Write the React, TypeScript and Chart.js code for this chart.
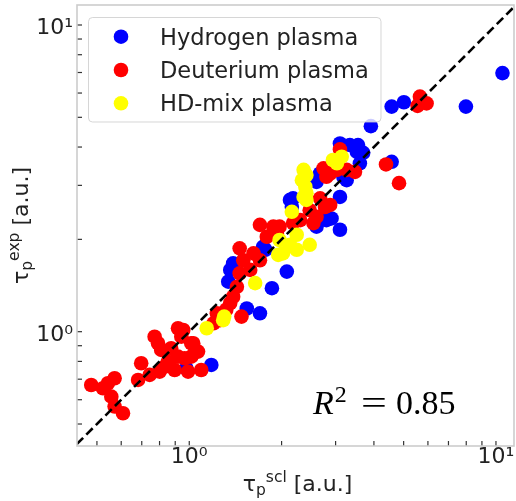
import React, { useEffect, useRef } from 'react';
import { Chart, registerables } from 'chart.js';

Chart.register(...registerables);

// ---- data (tau_p^scl, tau_p^exp) ----
const hydrogenX = [10.5, 7.98, 4.57, 5.01, 3.91, 4.57, 3.10, 3.34, 3.55, 3.69, 3.52, 3.18, 3.26, 3.60, 2.67, 2.60, 2.18, 2.13, 2.16, 3.10, 2.91, 3.10, 2.80, 2.60, 2.67, 1.74, 1.77, 2.08, 1.86, 1.70, 1.36, 1.34, 1.39, 1.54, 0.978, 1.18];
const hydrogenY = [6.97, 5.42, 5.42, 5.60, 4.68, 3.58, 4.11, 4.06, 4.06, 3.83, 3.86, 3.20, 3.12, 3.54, 3.28, 3.08, 2.72, 2.69, 2.55, 2.75, 2.34, 2.15, 2.31, 2.20, 2.31, 1.89, 1.85, 1.57, 1.386, 1.148, 1.59, 1.456, 1.67, 1.19, 0.760, 0.779];

const deuteriumX = [5.65, 5.94, 5.55, 4.38, 4.83, 3.10, 2.74, 2.88, 3.03, 3.26, 3.47, 2.80, 2.67, 2.88, 2.77, 2.47, 2.60, 2.54, 2.30, 2.18, 1.97, 1.88, 1.79, 1.93, 1.70, 1.46, 1.62, 1.50, 1.70, 1.58, 1.46, 1.43, 1.39, 1.36, 1.32, 1.48, 1.26, 1.20, 1.23, 0.956, 1.03, 0.479, 0.523, 0.543, 0.571, 0.557, 0.571, 0.608, 0.697, 0.681, 0.743, 0.801, 0.832, 0.771, 0.791, 0.810, 0.919, 0.942, 0.873, 0.919, 0.852, 0.896, 0.966, 1.015, 1.068, 1.094, 1.015, 0.991];
const deuteriumY = [5.84, 5.55, 5.45, 3.51, 3.05, 3.93, 3.41, 3.28, 3.37, 3.37, 3.32, 3.20, 2.72, 2.59, 2.55, 2.49, 2.37, 2.26, 2.31, 2.26, 2.20, 2.20, 2.04, 2.09, 2.23, 1.87, 1.80, 1.71, 1.71, 1.59, 1.55, 1.40, 1.30, 1.24, 1.18, 1.12, 1.09, 1.065, 1.148, 1.013, 0.917, 0.670, 0.654, 0.679, 0.705, 0.614, 0.570, 0.542, 0.789, 0.696, 0.723, 0.741, 0.769, 0.963, 0.917, 0.872, 1.026, 0.963, 0.883, 0.829, 0.798, 0.750, 0.819, 0.829, 0.861, 0.750, 0.917, 0.741];

const hdMixX = [3.14, 2.94, 3.03, 2.36, 2.41, 2.33, 2.39, 2.41, 2.36, 2.41, 2.16, 2.24, 1.97, 2.47, 2.02, 2.24, 2.13, 1.95, 1.64, 1.29, 1.14, 1.30];
const hdMixY = [3.72, 3.63, 3.54, 3.37, 3.24, 3.12, 2.97, 2.83, 2.75, 2.69, 2.46, 2.07, 1.99, 1.92, 1.80, 1.85, 1.92, 1.78, 1.44, 1.09, 1.026, 1.12];

const refLine = [0.4, 12];
const xRange = [0.4305, 11.45];
const yRange = [0.4239, 11.62];
const tickValues = [0.5, 0.6, 0.7, 0.8, 0.9, 1, 2, 3, 4, 5, 6, 7, 8, 9, 10];
const tickLabels: Record<number, string> = { 1: '10\u2070', 10: '10\u00b9' };
const seriesNames = ['Hydrogen plasma', 'Deuterium plasma', 'HD-mix plasma'];
const seriesColors = ['#0000ff', '#ff0000', '#ffff00'];
const r2Value = '0.85';

const SANS = '"DejaVu Sans"';
const TEXT = '#222222';

function toPoints(xs: number[], ys: number[]) {
  return xs.map((x, i) => ({ x, y: ys[i] }));
}

function titleWidth(ctx: CanvasRenderingContext2D, sup: string) {
  ctx.font = `22px ${SANS}`;
  let w = ctx.measureText('\u03c4').width + ctx.measureText(' [a.u.]').width;
  ctx.font = `15.5px ${SANS}`;
  w += ctx.measureText('p').width + ctx.measureText(sup).width;
  return w;
}

function drawTitle(ctx: CanvasRenderingContext2D, x: number, y: number, sup: string) {
  ctx.font = `22px ${SANS}`;
  ctx.fillText('\u03c4', x, y);
  x += ctx.measureText('\u03c4').width;
  ctx.font = `15.5px ${SANS}`;
  ctx.fillText('p', x, y + 4);
  x += ctx.measureText('p').width;
  ctx.fillText(sup, x, y - 9);
  x += ctx.measureText(sup).width;
  ctx.font = `22px ${SANS}`;
  ctx.fillText(' [a.u.]', x, y);
}

const decor = {
  id: 'decor',
  afterDatasetsDraw(chart: any) {
    const { ctx, chartArea: ca, scales } = chart;
    ctx.save();
    // inward tick marks
    ctx.strokeStyle = '#333333';
    ctx.lineWidth = 1.2;
    for (const v of tickValues) {
      const x = scales.x.getPixelForValue(v);
      ctx.beginPath();
      ctx.moveTo(x, ca.bottom);
      ctx.lineTo(x, ca.bottom - 5);
      ctx.stroke();
      const y = scales.y.getPixelForValue(v);
      ctx.beginPath();
      ctx.moveTo(ca.left, y);
      ctx.lineTo(ca.left + 5, y);
      ctx.stroke();
    }
    // frame
    ctx.strokeStyle = '#cccccc';
    ctx.lineWidth = 1.6;
    ctx.strokeRect(ca.left, ca.top, ca.right - ca.left, ca.bottom - ca.top);

    // legend
    const lx = ca.left + 11.5;
    const ly = ca.top + 12.5;
    const lw = 292.5;
    const lh = 104.5;
    ctx.beginPath();
    ctx.roundRect(lx, ly, lw, lh, 4);
    ctx.fillStyle = 'rgba(255,255,255,0.8)';
    ctx.fill();
    ctx.strokeStyle = 'rgba(204,204,204,0.8)';
    ctx.lineWidth = 1;
    ctx.stroke();
    seriesNames.forEach((name, i) => {
      const cy = ca.top + 31.7 + i * 33.3;
      ctx.beginPath();
      ctx.arc(ca.left + 44, cy, 7.3, 0, Math.PI * 2);
      ctx.fillStyle = seriesColors[i];
      ctx.fill();
      ctx.fillStyle = TEXT;
      ctx.font = `22.5px ${SANS}`;
      ctx.textAlign = 'left';
      ctx.textBaseline = 'alphabetic';
      ctx.fillText(name, ca.left + 83, cy + 8);
    });

    // R^2 annotation
    const bx = ca.right - 201;
    const by = ca.bottom - 32;
    ctx.fillStyle = '#000000';
    ctx.font = `italic 34px "Liberation Serif"`;
    ctx.fillText('R', bx, by);
    let cx = bx + ctx.measureText('R').width + 1;
    ctx.font = `24px "Liberation Serif"`;
    ctx.fillText('2', cx, by - 12);
    cx += ctx.measureText('2').width;
    ctx.font = `34px "Liberation Serif"`;
    ctx.textAlign = 'center';
    ctx.save();
    ctx.translate(ca.right - 140, by);
    ctx.scale(1.35, 1);
    ctx.fillText('=', 0, 0);
    ctx.restore();
    ctx.textAlign = 'left';
    ctx.fillText(r2Value, ca.right - 118, by);

    // axis titles
    ctx.fillStyle = TEXT;
    const wx = titleWidth(ctx, 'scl');
    drawTitle(ctx, 297.5 - wx / 2, 491, 'scl');
    const wy = titleWidth(ctx, 'exp');
    ctx.save();
    ctx.translate(28, (ca.top + ca.bottom) / 2);
    ctx.rotate(-Math.PI / 2);
    drawTitle(ctx, -wy / 2, 0, 'exp');
    ctx.restore();

    ctx.restore();
  },
};

export default function App() {
  const ref = useRef<HTMLCanvasElement | null>(null);
  useEffect(() => {
    if (!ref.current) return;
    const tickFont = { family: 'DejaVu Sans', size: 22, lineHeight: 1 };
    const chart = new Chart(ref.current, {
      type: 'scatter',
      data: {
        datasets: [
          {
            type: 'line',
            label: 'y = x',
            data: toPoints(refLine, refLine),
            borderColor: '#000000',
            borderWidth: 2.6,
            borderDash: [9, 4.5],
            pointRadius: 0,
            fill: false,
            order: 0,
          } as any,
          {
            label: seriesNames[2],
            data: toPoints(hdMixX, hdMixY),
            backgroundColor: seriesColors[2],
            borderWidth: 0,
            pointRadius: 7.3,
            order: 1,
          },
          {
            label: seriesNames[1],
            data: toPoints(deuteriumX, deuteriumY),
            backgroundColor: seriesColors[1],
            borderWidth: 0,
            pointRadius: 7.3,
            order: 2,
          },
          {
            label: seriesNames[0],
            data: toPoints(hydrogenX, hydrogenY),
            backgroundColor: seriesColors[0],
            borderWidth: 0,
            pointRadius: 7.3,
            order: 3,
          },
        ],
      },
      options: {
        responsive: false,
        animation: false,
        events: [],
        layout: { padding: { top: 5, right: 2, left: 0, bottom: 0 }, autoPadding: false },
        plugins: { legend: { display: false }, tooltip: { enabled: false } },
        scales: {
          x: {
            type: 'logarithmic',
            min: xRange[0],
            max: xRange[1],
            afterBuildTicks: (s: any) => {
              s.ticks = tickValues.map((v) => ({ value: v }));
            },
            afterFit: (s: any) => {
              s.height = 55;
              s.paddingLeft = 0;
              s.paddingRight = 0;
              s.paddingTop = 0;
              s.paddingBottom = 0;
            },
            ticks: {
              autoSkip: false,
              maxRotation: 0,
              padding: 0,
              color: TEXT,
              font: tickFont,
              callback: (v: any) => tickLabels[Number(v)] ?? '',
            },
            grid: { display: false, drawTicks: false },
            border: { display: false },
          },
          y: {
            type: 'logarithmic',
            min: yRange[0],
            max: yRange[1],
            afterBuildTicks: (s: any) => {
              s.ticks = tickValues.map((v) => ({ value: v }));
            },
            afterFit: (s: any) => {
              s.width = 77;
              s.paddingLeft = 0;
              s.paddingRight = 0;
              s.paddingTop = 0;
              s.paddingBottom = 0;
            },
            ticks: {
              autoSkip: false,
              padding: 4,
              labelOffset: 3.5,
              color: TEXT,
              font: tickFont,
              callback: (v: any) => tickLabels[Number(v)] ?? '',
            },
            grid: { display: false, drawTicks: false },
            border: { display: false },
          },
        },
      },
      plugins: [decor],
    });
    return () => chart.destroy();
  }, []);
  return (
    <div style={{ position: 'absolute', left: 0, top: 0, width: 516, height: 501, background: '#ffffff' }}>
      <canvas ref={ref} width={516} height={501} style={{ display: 'block' }} />
    </div>
  );
}
